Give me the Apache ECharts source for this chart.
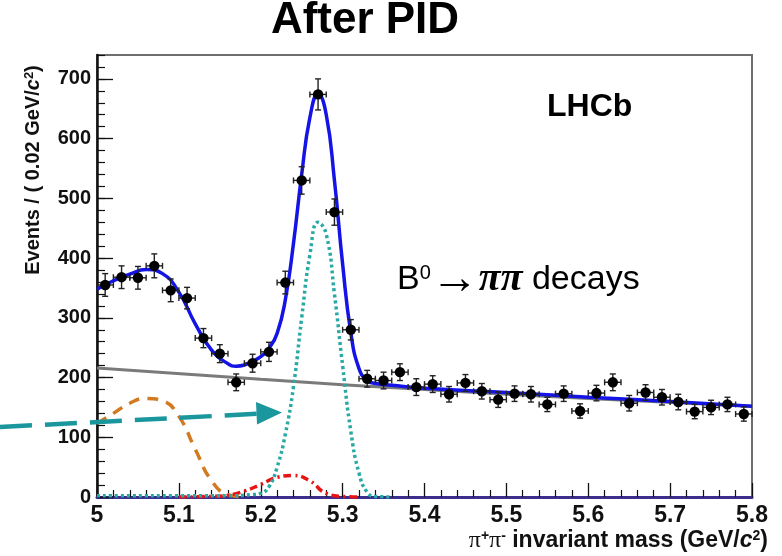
<!DOCTYPE html>
<html>
<head>
<meta charset="utf-8">
<script src="https://cdn.jsdelivr.net/npm/echarts@6/dist/echarts.min.js"></script>
<style>
html, body { margin: 0; padding: 0; background: #fff; }
#chart { width: 782px; height: 556px; }
</style>
</head>
<body>
<div id="chart"></div>
<script>
// measured histogram: bin centres (GeV/c^2), events per 0.02 bin, error bars
const massBins = [5.01, 5.03, 5.05, 5.07, 5.09, 5.11, 5.13, 5.15, 5.17, 5.19,
  5.21, 5.23, 5.25, 5.27, 5.29, 5.31, 5.33, 5.35, 5.37, 5.39,
  5.41, 5.43, 5.45, 5.47, 5.49, 5.51, 5.53, 5.55, 5.57, 5.59,
  5.61, 5.63, 5.65, 5.67, 5.69, 5.71, 5.73, 5.75, 5.77, 5.79]
const counts = [355, 368, 367, 387, 346, 333, 266, 240, 192, 224,
  243, 359, 530, 674, 477, 280, 198, 195, 209, 184,
  189, 172, 191, 177, 163, 173, 172, 155, 173, 144,
  174, 192, 157, 175, 167, 159, 143, 150, 155, 139]
const countErrs = [19, 19, 19, 20, 19, 18, 16, 15, 14, 15,
  16, 19, 23, 26, 22, 17, 14, 14, 14, 14,
  14, 13, 14, 13, 13, 13, 13, 12, 13, 12,
  13, 14, 13, 13, 13, 13, 12, 12, 12, 12]

// fit curves, sampled off the figure
const totalX = [5.00, 5.02, 5.04, 5.06, 5.08, 5.10, 5.12, 5.14, 5.16, 5.17, 5.18, 5.20, 5.21, 5.22, 5.23, 5.24,
  5.25, 5.26, 5.27, 5.28, 5.29, 5.30, 5.31, 5.32, 5.33, 5.34, 5.36, 5.40, 5.50, 5.60, 5.70, 5.80]
const totalY = [348, 362, 373, 381, 374, 343, 290, 246, 223, 219, 221, 235, 249, 274, 330, 425,
  540, 635, 675, 640, 530, 390, 275, 215, 195, 190, 187, 182, 175, 167, 160, 152]
const bkgX = [5.0, 5.2, 5.4, 5.6, 5.8]
const bkgY = [216, 197, 180, 165, 152]
const partRecoX = [5.00, 5.02, 5.04, 5.06, 5.08, 5.10, 5.12, 5.14, 5.16, 5.18]
const partRecoY = [123, 140, 157, 165, 161, 135, 80, 27, 4, 0]
const misIdX = [5.10, 5.14, 5.16, 5.18, 5.20, 5.22, 5.24, 5.26, 5.28, 5.30, 5.32]
const misIdY = [0, 1, 3, 10, 21, 33, 36, 27, 6, 1, 0]
const sigX = [5.00, 5.10, 5.16, 5.19, 5.20, 5.21, 5.22, 5.23, 5.24, 5.25, 5.26, 5.27,
  5.28, 5.29, 5.30, 5.31, 5.32, 5.33, 5.34, 5.36]
const sigY = [2, 2, 2, 4, 6, 17, 50, 105, 185, 300, 405, 460,
  440, 340, 220, 110, 40, 8, 1, 0]

const yMajorTicks = [0, 100, 200, 300, 400, 500, 600, 700]

const zip = (xs, ys) => xs.map((x, i) => [x, ys[i]])
const fontSans = 'Liberation Sans'

let myChart = echarts.init(document.getElementById('chart'))

function curve (xs, ys, color, width, dash, z) {
  return {
    type: 'line',
    data: zip(xs, ys),
    showSymbol: false,
    smooth: 0.5,
    z: z,
    lineStyle: { color: color, width: width, type: dash, cap: 'butt' },
    emphasis: { disabled: true }
  }
}

let options = {
  animation: false,
  grid: {
    left: 97, top: 55, right: 30, bottom: 59,
    show: true,
    borderColor: '#6e6e6e',
    borderWidth: 2,
    outerBoundsMode: 'none'
  },
  xAxis: {
    type: 'value',
    min: 5,
    max: 5.8,
    interval: 0.1,
    axisLine: { lineStyle: { color: '#3b2e8c', width: 3 } },
    axisTick: { inside: true, length: 14, lineStyle: { color: '#111', width: 1.3 } },
    minorTick: { show: true, splitNumber: 5, length: 7, lineStyle: { color: '#111', width: 1.2 } },
    splitLine: { show: false },
    axisLabel: {
      margin: 7,
      color: '#111',
      fontFamily: fontSans,
      fontWeight: 'bold',
      fontSize: 23,
      formatter: v => String(Math.round(v * 10) / 10)
    }
  },
  yAxis: [
    {
      type: 'value',
      position: 'left',
      min: 0,
      max: 740,
      interval: 100,
      axisLine: { show: true, lineStyle: { color: '#111', width: 2.5 } },
      axisTick: { show: true, inside: true, length: 16, customValues: yMajorTicks, lineStyle: { color: '#111', width: 1.3 } },
      splitLine: { show: false },
      axisLabel: {
        margin: 6,
        color: '#111',
        fontFamily: fontSans,
        fontWeight: 'bold',
        fontSize: 20,
        customValues: yMajorTicks
      }
    },
    {
      // minor ticks every 20 events
      type: 'value',
      position: 'left',
      min: 0,
      max: 740,
      interval: 20,
      axisLine: { show: false },
      axisTick: { show: true, inside: true, length: 8, lineStyle: { color: '#111', width: 1.2 } },
      axisLabel: { show: false },
      splitLine: { show: false }
    }
  ],
  series: [
    curve(bkgX, bkgY, '#7a7a7a', 3, 'solid', 2),
    curve(partRecoX, partRecoY, '#d27a22', 3.5, [11, 8], 3),
    curve(misIdX, misIdY, '#e81414', 3.5, [8, 4, 2, 4], 3),
    curve(sigX, sigY, '#28a9a4', 3.5, [3, 3], 3),
    curve(totalX, totalY, '#1414e6', 3.5, 'solid', 4),
    {
      type: 'custom',
      z: 6,
      data: massBins.map((m, i) => [m, counts[i], countErrs[i]]),
      renderItem: function (params, api) {
        let x = api.value(0)
        let y = api.value(1)
        let e = api.value(2)
        let c = api.coord([x, y])
        let t = api.coord([x, y + e])
        let b = api.coord([x, y - e])
        let l = api.coord([x - 0.01, y])
        let r = api.coord([x + 0.01, y])
        let st = { stroke: '#222', lineWidth: 1.4 }
        let cap = 3
        return {
          type: 'group',
          children: [
            { type: 'line', shape: { x1: c[0], y1: t[1], x2: c[0], y2: b[1] }, style: st },
            { type: 'line', shape: { x1: c[0] - cap, y1: t[1], x2: c[0] + cap, y2: t[1] }, style: st },
            { type: 'line', shape: { x1: c[0] - cap, y1: b[1], x2: c[0] + cap, y2: b[1] }, style: st },
            { type: 'line', shape: { x1: l[0], y1: c[1], x2: r[0], y2: c[1] }, style: st },
            { type: 'line', shape: { x1: l[0], y1: c[1] - cap, x2: l[0], y2: c[1] + cap }, style: st },
            { type: 'line', shape: { x1: r[0], y1: c[1] - cap, x2: r[0], y2: c[1] + cap }, style: st },
            { type: 'circle', shape: { cx: c[0], cy: c[1], r: 5.2 }, style: { fill: '#000' } }
          ]
        }
      }
    }
  ],
  graphic: [
    {
      type: 'text', x: 365, y: 21, z: 10,
      style: { text: 'After PID', fill: '#000', font: 'bold 44px "Liberation Sans"', align: 'center', verticalAlign: 'middle' }
    },
    {
      type: 'text', x: 547, y: 107, z: 10,
      style: { text: 'LHCb', fill: '#000', font: 'bold 32px "Liberation Sans"', align: 'left', verticalAlign: 'middle' }
    },
    {
      type: 'text', x: 397, y: 280, z: 10,
      style: {
        text: '{n|B}{s|0}{a|→}{p|ππ}{n| decays}',
        align: 'left',
        verticalAlign: 'middle',
        rich: {
          n: { fontFamily: fontSans, fontSize: 34, lineHeight: 34, fill: '#000' },
          a: { fontFamily: fontSans, fontSize: 48, lineHeight: 34, fill: '#000' },
          s: { fontFamily: fontSans, fontSize: 20, lineHeight: 22, verticalAlign: 'top', fill: '#000' },
          p: { fontFamily: 'Liberation Serif', fontSize: 40, lineHeight: 34, fontWeight: 'bold', fontStyle: 'italic', fill: '#000' }
        }
      }
    },
    {
      type: 'text', x: 33, y: 170, rotation: Math.PI / 2, z: 10,
      style: {
        text: '{b|Events / ( 0.02 GeV/}{i|c}{s|2}{b|)}',
        align: 'center',
        verticalAlign: 'middle',
        rich: {
          b: { fontFamily: fontSans, fontWeight: 'bold', fontSize: 20, fill: '#111' },
          i: { fontFamily: fontSans, fontWeight: 'bold', fontStyle: 'italic', fontSize: 20, fill: '#111' },
          s: { fontFamily: fontSans, fontWeight: 'bold', fontSize: 13, verticalAlign: 'top', fill: '#111' }
        }
      }
    },
    {
      type: 'text', x: 768, y: 541, z: 10,
      style: {
        text: '{p|π}{s|+}{p|π}{s|-}{b| invariant mass (GeV/}{i|c}{s|2}{b|)}',
        align: 'right',
        verticalAlign: 'middle',
        rich: {
          p: { fontFamily: 'Liberation Serif', fontSize: 24, fill: '#111' },
          b: { fontFamily: fontSans, fontWeight: 'bold', fontSize: 23, fill: '#111' },
          i: { fontFamily: fontSans, fontWeight: 'bold', fontStyle: 'italic', fontSize: 23, fill: '#111' },
          s: { fontFamily: fontSans, fontWeight: 'bold', fontSize: 14, verticalAlign: 'top', fill: '#111' }
        }
      }
    },
    // annotation arrow pointing at the signal peak
    {
      type: 'line', z: 9,
      shape: { x1: 0, y1: 427, x2: 259, y2: 413.7 },
      style: { stroke: '#1a979d', lineWidth: 4.5, lineDash: [32, 13] }
    },
    {
      type: 'polygon', z: 9,
      shape: { points: [[282, 412.5], [256, 402], [257, 424.5]] },
      style: { fill: '#1a979d' }
    }
  ]
}

myChart.setOption(options)
</script>
</body>
</html>
